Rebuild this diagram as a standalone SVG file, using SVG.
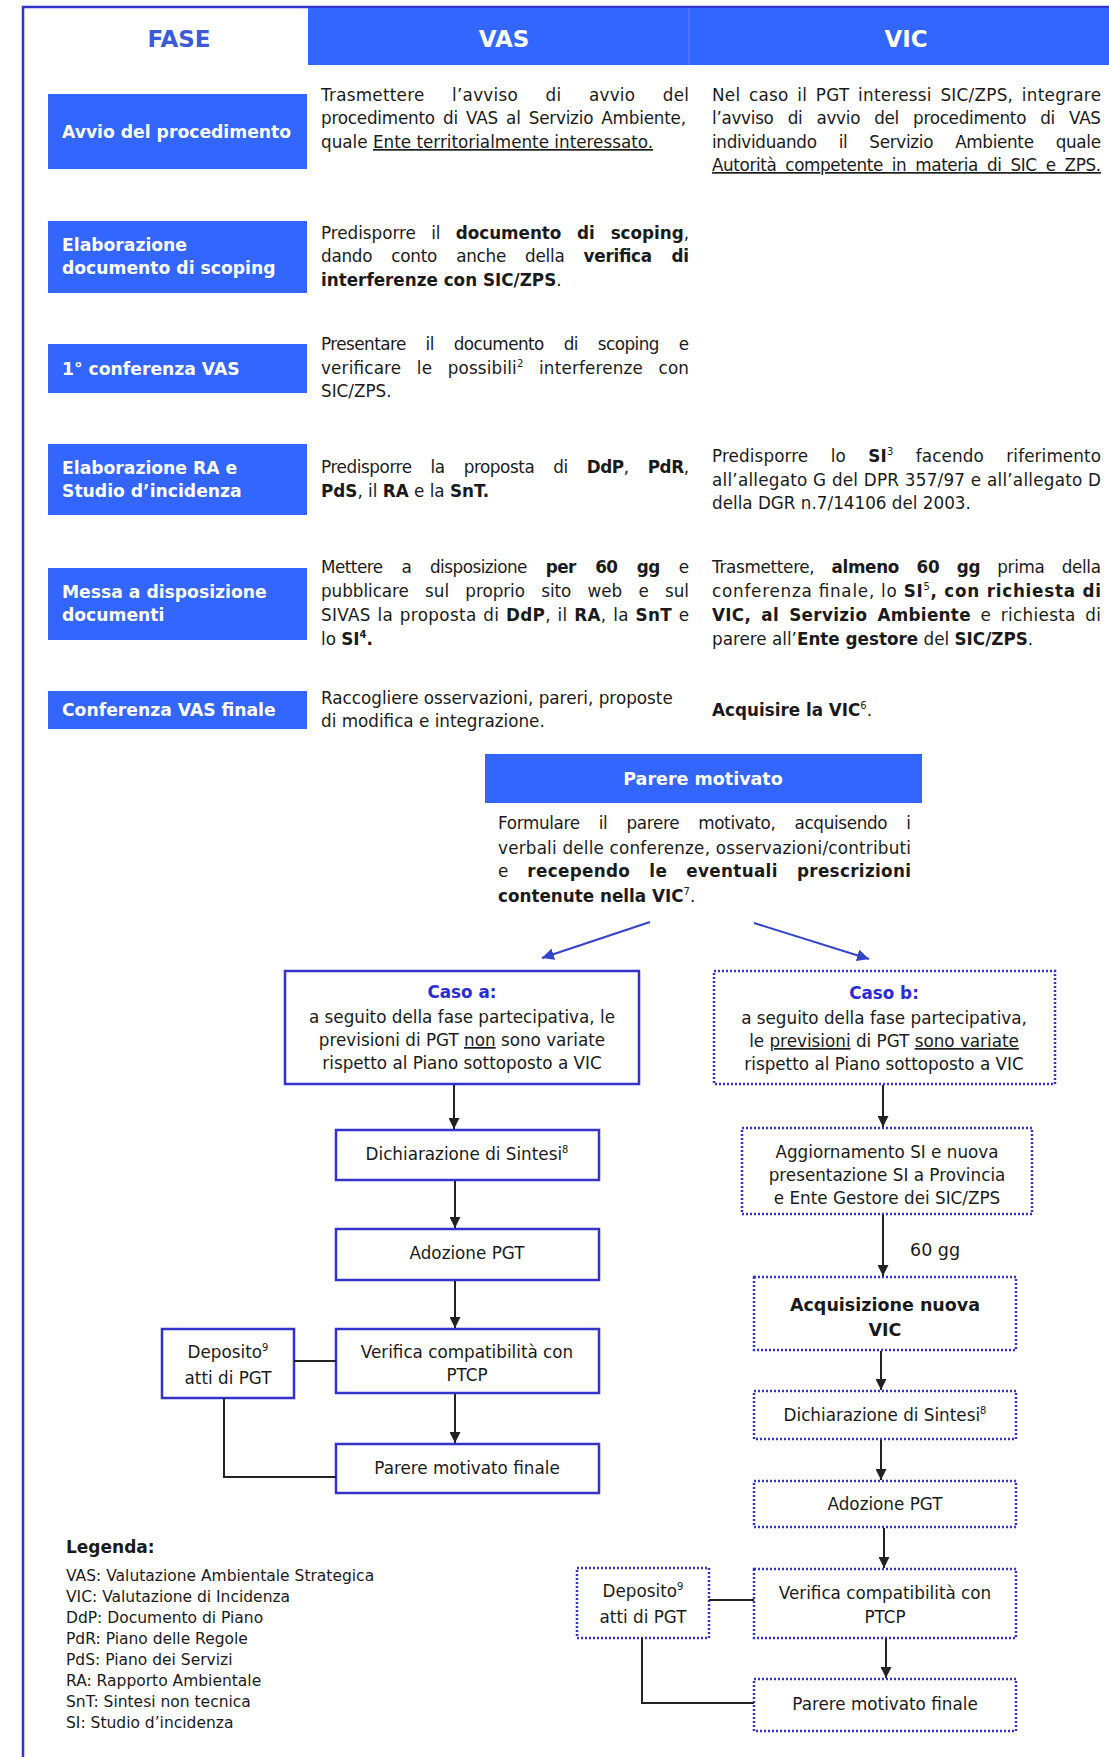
<svg xmlns="http://www.w3.org/2000/svg" width="1109" height="1757" viewBox="0 0 1109 1757">
<style>
text{font-family:"DejaVu Sans",Verdana,sans-serif;font-size:16.8px;fill:#1a1a1a}
.b{font-weight:bold}
.u{text-decoration:underline}
.s{font-size:10px}
.ph{font-weight:bold;fill:#fff;font-size:17.2px}
.hd{font-size:23px;font-weight:bold;fill:#fff}
.phb{fill:#3366ff}
.box{fill:#fff;stroke:#3333cc;stroke-width:2.5}
.dot{fill:#fff;stroke:#3333cc;stroke-width:2.5;stroke-dasharray:2 2}
.con{stroke:#222;stroke-width:2;fill:none}
.bl{stroke:#3344cc;stroke-width:2;fill:none}
.c{text-anchor:middle}
.cs{font-weight:bold;fill:#2b2bd6}
.lg{font-size:15.5px}
</style>
<defs>
<marker id="ah" viewBox="0 0 10 10" refX="10" refY="5" markerWidth="11" markerHeight="11" markerUnits="userSpaceOnUse" orient="auto"><path d="M0,0 L10,5 L0,10 z" fill="#222"/></marker>
<marker id="ahb" viewBox="0 0 10 10" refX="10" refY="5" markerWidth="12" markerHeight="12" markerUnits="userSpaceOnUse" orient="auto"><path d="M0,0 L10,5 L0,10 z" fill="#3344cc"/></marker>
</defs>
<rect width="1109" height="1757" fill="#fff"/>
<path d="M1109,7 H23 V1757" fill="none" stroke="#3333cc" stroke-width="2.5"/>

<g id="header">
<rect x="308" y="8" width="801" height="57" fill="#3366ff"/>
<line x1="689" y1="8" x2="689" y2="65" stroke="#5c82ff" stroke-width="1"/>
<text x="179" y="47" class="hd c" style="fill:#3b5bdb">FASE</text>
<text x="504" y="47" class="hd c">VAS</text>
<text x="906" y="47" class="hd c">VIC</text>
</g>

<g id="phase-avvio">
<rect x="48" y="94" width="259" height="75" class="phb"/>
<text x="62" y="138" class="ph">Avvio del procedimento</text>
</g>
<g id="phase-scoping">
<rect x="48" y="221" width="259" height="72" class="phb"/>
<text x="62" y="251" class="ph">Elaborazione</text>
<text x="62" y="274" class="ph">documento di scoping</text>
</g>
<g id="phase-conf1">
<rect x="48" y="344" width="259" height="49" class="phb"/>
<text x="62" y="375" class="ph">1° conferenza VAS</text>
</g>
<g id="phase-ra">
<rect x="48" y="444" width="259" height="71" class="phb"/>
<text x="62" y="474" class="ph">Elaborazione RA e</text>
<text x="62" y="497" class="ph">Studio d’incidenza</text>
</g>
<g id="phase-messa">
<rect x="48" y="568" width="259" height="72" class="phb"/>
<text x="62" y="598" class="ph">Messa a disposizione</text>
<text x="62" y="621" class="ph">documenti</text>
</g>
<g id="phase-finale">
<rect x="48" y="691" width="259" height="38" class="phb"/>
<text x="62" y="716" class="ph">Conferenza VAS finale</text>
</g>

<g id="vas-text">
<text x="321" y="101" textLength="368" lengthAdjust="spacing" style="word-spacing:22px">Trasmettere l’avviso di avvio del</text>
<text x="321" y="124" textLength="365" lengthAdjust="spacing" style="word-spacing:3px">procedimento di VAS al Servizio Ambiente,</text>
<text x="321" y="148">quale <tspan class="u">Ente territorialmente interessato.</tspan></text>

<text x="321" y="239" textLength="368" lengthAdjust="spacing" style="word-spacing:10px">Predisporre il <tspan class="b">documento di scoping</tspan>,</text>
<text x="321" y="262" textLength="368" lengthAdjust="spacing" style="word-spacing:14px">dando conto anche della <tspan class="b">verifica di</tspan></text>
<text x="321" y="286"><tspan class="b">interferenze con SIC/ZPS</tspan>.</text>

<text x="321" y="350" textLength="368" lengthAdjust="spacing" style="word-spacing:15px">Presentare il documento di scoping e</text>
<text x="321" y="374" textLength="368" lengthAdjust="spacing" style="word-spacing:10px">verificare le possibili<tspan class="s" dy="-7">2</tspan><tspan dy="7"> interferenze con</tspan></text>
<text x="321" y="397">SIC/ZPS.</text>

<text x="321" y="473" textLength="368" lengthAdjust="spacing" style="word-spacing:14px">Predisporre la proposta di <tspan class="b">DdP</tspan>, <tspan class="b">PdR</tspan>,</text>
<text x="321" y="497"><tspan class="b">PdS</tspan>, il <tspan class="b">RA</tspan> e la <tspan class="b">SnT.</tspan></text>

<text x="321" y="573" textLength="368" lengthAdjust="spacing" style="word-spacing:14px">Mettere a disposizione <tspan class="b">per 60 gg</tspan> e</text>
<text x="321" y="597" textLength="368" lengthAdjust="spacing" style="word-spacing:11px">pubblicare sul proprio sito web e sul</text>
<text x="321" y="621" textLength="368" lengthAdjust="spacing" style="word-spacing:1px">SIVAS la proposta di <tspan class="b">DdP</tspan>, il <tspan class="b">RA</tspan>, la <tspan class="b">SnT</tspan> e</text>
<text x="321" y="645">lo <tspan class="b">SI</tspan><tspan class="s b" dy="-7">4</tspan><tspan dy="7" class="b">.</tspan></text>

<text x="321" y="704">Raccogliere osservazioni, pareri, proposte</text>
<text x="321" y="727">di modifica e integrazione.</text>
</g>

<g id="vic-text">
<text x="712" y="101" textLength="389" lengthAdjust="spacing" style="word-spacing:3px">Nel caso il PGT interessi SIC/ZPS, integrare</text>
<text x="712" y="124" textLength="389" lengthAdjust="spacing" style="word-spacing:9px">l’avviso di avvio del procedimento di VAS</text>
<text x="712" y="148" textLength="389" lengthAdjust="spacing" style="word-spacing:17px">individuando il Servizio Ambiente quale</text>
<text x="712" y="171" textLength="389" lengthAdjust="spacing" class="u" style="word-spacing:4px">Autorità competente in materia di SIC e ZPS.</text>

<text x="712" y="462" textLength="389" lengthAdjust="spacing" style="word-spacing:17px">Predisporre lo <tspan class="b">SI</tspan><tspan class="s" dy="-7">3</tspan><tspan dy="7"> facendo riferimento</tspan></text>
<text x="712" y="486" textLength="389" lengthAdjust="spacing">all’allegato G del DPR 357/97 e all’allegato D</text>
<text x="712" y="509">della DGR n.7/14106 del 2003.</text>

<text x="712" y="573" textLength="389" lengthAdjust="spacing" style="word-spacing:12px">Trasmettere, <tspan class="b">almeno 60 gg</tspan> prima della</text>
<text x="712" y="597" textLength="389" lengthAdjust="spacing">conferenza finale, lo <tspan class="b">SI</tspan><tspan class="s" dy="-7">5</tspan><tspan class="b" dy="7">, con richiesta di</tspan></text>
<text x="712" y="621" textLength="389" lengthAdjust="spacing" style="word-spacing:4px"><tspan class="b">VIC, al Servizio Ambiente</tspan> e richiesta di</text>
<text x="712" y="645">parere all’<tspan class="b">Ente gestore</tspan> del <tspan class="b">SIC/ZPS</tspan>.</text>

<text x="712" y="716"><tspan class="b">Acquisire la VIC</tspan><tspan class="s" dy="-7">6</tspan><tspan dy="7">.</tspan></text>
</g>

<g id="parere-motivato">
<rect x="485" y="754" width="437" height="49" class="phb"/>
<text x="703" y="785" class="ph c" style="font-size:17.5px">Parere motivato</text>
<text x="498" y="829" textLength="413" lengthAdjust="spacing" style="word-spacing:14px">Formulare il parere motivato, acquisendo i</text>
<text x="498" y="854" textLength="413" lengthAdjust="spacing">verbali delle conferenze, osservazioni/contributi</text>
<text x="498" y="877" textLength="413" lengthAdjust="spacing" style="word-spacing:13px">e <tspan class="b">recependo le eventuali prescrizioni</tspan></text>
<text x="498" y="902"><tspan class="b">contenute nella VIC</tspan><tspan class="s" dy="-7">7</tspan><tspan dy="7">.</tspan></text>
</g>

<g id="caso-a">
<rect x="285" y="971" width="354" height="113" class="box"/>
<text x="462" y="998" class="c cs">Caso a:</text>
<text x="462" y="1023" class="c">a seguito della fase partecipativa, le</text>
<text x="462" y="1046" class="c">previsioni di PGT <tspan class="u">non</tspan> sono variate</text>
<text x="462" y="1069" class="c">rispetto al Piano sottoposto a VIC</text>
</g>
<g id="dichiarazione-a">
<rect x="336" y="1130" width="263" height="50" class="box"/>
<text x="467" y="1160" class="c">Dichiarazione di Sintesi<tspan class="s" dy="-7">8</tspan></text>
</g>
<g id="adozione-a">
<rect x="336" y="1229" width="263" height="51" class="box"/>
<text x="467" y="1259" class="c">Adozione PGT</text>
</g>
<g id="verifica-a">
<rect x="336" y="1329" width="263" height="64" class="box"/>
<text x="467" y="1358" class="c">Verifica compatibilità con</text>
<text x="467" y="1381" class="c">PTCP</text>
</g>
<g id="deposito-a">
<rect x="162" y="1329" width="132" height="69" class="box"/>
<text x="228" y="1358" class="c">Deposito<tspan class="s" dy="-7">9</tspan></text>
<text x="228" y="1384" class="c">atti di PGT</text>
</g>
<g id="parere-finale-a">
<rect x="336" y="1444" width="263" height="49" class="box"/>
<text x="467" y="1474" class="c">Parere motivato finale</text>
</g>

<g id="caso-b">
<rect x="714" y="971" width="341" height="113" class="dot"/>
<text x="884" y="999" class="c cs">Caso b:</text>
<text x="884" y="1024" class="c">a seguito della fase partecipativa,</text>
<text x="884" y="1047" class="c">le <tspan class="u">previsioni</tspan> di PGT <tspan class="u">sono variate</tspan></text>
<text x="884" y="1070" class="c">rispetto al Piano sottoposto a VIC</text>
</g>
<g id="aggiornamento-b">
<rect x="742" y="1128" width="290" height="86" class="dot"/>
<text x="887" y="1158" class="c">Aggiornamento SI e nuova</text>
<text x="887" y="1181" class="c">presentazione SI a Provincia</text>
<text x="887" y="1204" class="c">e Ente Gestore dei SIC/ZPS</text>
</g>
<g id="acquisizione-b">
<rect x="754" y="1277" width="262" height="73" class="dot"/>
<text x="885" y="1311" class="c b" style="font-size:17.5px">Acquisizione nuova</text>
<text x="885" y="1336" class="c b" style="font-size:17.5px">VIC</text>
</g>
<g id="dichiarazione-b">
<rect x="754" y="1391" width="262" height="48" class="dot"/>
<text x="885" y="1421" class="c">Dichiarazione di Sintesi<tspan class="s" dy="-7">8</tspan></text>
</g>
<g id="adozione-b">
<rect x="754" y="1481" width="262" height="46" class="dot"/>
<text x="885" y="1510" class="c">Adozione PGT</text>
</g>
<g id="verifica-b">
<rect x="754" y="1569" width="262" height="69" class="dot"/>
<text x="885" y="1599" class="c">Verifica compatibilità con</text>
<text x="885" y="1623" class="c">PTCP</text>
</g>
<g id="deposito-b">
<rect x="577" y="1568" width="132" height="70" class="dot"/>
<text x="643" y="1597" class="c">Deposito<tspan class="s" dy="-7">9</tspan></text>
<text x="643" y="1623" class="c">atti di PGT</text>
</g>
<g id="parere-finale-b">
<rect x="754" y="1679" width="262" height="52" class="dot"/>
<text x="885" y="1710" class="c">Parere motivato finale</text>
</g>

<g id="connectors">
<line x1="650" y1="922" x2="542" y2="958" class="bl" marker-end="url(#ahb)"/>
<line x1="754" y1="923" x2="869" y2="959" class="bl" marker-end="url(#ahb)"/>
<line x1="454" y1="1085" x2="454" y2="1129" class="con" marker-end="url(#ah)"/>
<line x1="455" y1="1181" x2="455" y2="1228" class="con" marker-end="url(#ah)"/>
<line x1="455" y1="1281" x2="455" y2="1328" class="con" marker-end="url(#ah)"/>
<line x1="294" y1="1361" x2="336" y2="1361" class="con"/>
<line x1="455" y1="1394" x2="455" y2="1443" class="con" marker-end="url(#ah)"/>
<path d="M224,1398 V1477 H336" class="con"/>
<line x1="883" y1="1085" x2="883" y2="1127" class="con" marker-end="url(#ah)"/>
<line x1="883" y1="1215" x2="883" y2="1276" class="con" marker-end="url(#ah)"/>
<text x="910" y="1256" style="font-size:17.5px">60 gg</text>
<line x1="881" y1="1351" x2="881" y2="1390" class="con" marker-end="url(#ah)"/>
<line x1="881" y1="1440" x2="881" y2="1480" class="con" marker-end="url(#ah)"/>
<line x1="884" y1="1528" x2="884" y2="1568" class="con" marker-end="url(#ah)"/>
<line x1="709" y1="1600" x2="754" y2="1600" class="con"/>
<line x1="886" y1="1639" x2="886" y2="1678" class="con" marker-end="url(#ah)"/>
<path d="M642,1638 V1703 H754" class="con"/>
</g>

<g id="legenda">
<text x="66" y="1553" class="b" style="font-size:17px">Legenda:</text>
<text x="66" y="1581" class="lg">VAS: Valutazione Ambientale Strategica</text>
<text x="66" y="1602" class="lg">VIC: Valutazione di Incidenza</text>
<text x="66" y="1623" class="lg">DdP: Documento di Piano</text>
<text x="66" y="1644" class="lg">PdR: Piano delle Regole</text>
<text x="66" y="1665" class="lg">PdS: Piano dei Servizi</text>
<text x="66" y="1686" class="lg">RA: Rapporto Ambientale</text>
<text x="66" y="1707" class="lg">SnT: Sintesi non tecnica</text>
<text x="66" y="1728" class="lg">SI: Studio d’incidenza</text>
</g>
</svg>
